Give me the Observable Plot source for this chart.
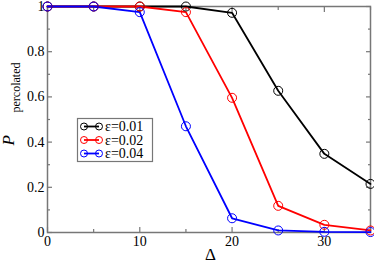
<!DOCTYPE html>
<html>
<head>
<meta charset="utf-8">
<script src="https://cdn.jsdelivr.net/npm/d3@7"></script>
<script src="https://cdn.jsdelivr.net/npm/@observablehq/plot@0.6"></script>
<style>
  html, body { margin: 0; padding: 0; background: #fff; }
  #chart { width: 374px; height: 262px; }
</style>
</head>
<body>
<div id="chart"></div>
<script>
const delta = [0, 5, 10, 15, 20, 25, 30, 35];
const p001 = [1, 1, 1, 1, 0.972, 0.627, 0.348, 0.215];
const p002 = [1, 1, 1, 0.975, 0.596, 0.118, 0.034, 0.009];
const p004 = [1, 1, 0.975, 0.47, 0.063, 0.009, 0.003, 0.002];
const seriesLabels = ["ε=0.01", "ε=0.02", "ε=0.04"];
const seriesColors = ["#000000", "#ff0000", "#0000ff"];
const xMajor = [0, 10, 20, 30];
const xMinor = [5, 15, 25, 35];
const yMajor = [0, 0.2, 0.4, 0.6, 0.8, 1];
const yMinor = [0.1, 0.3, 0.5, 0.7, 0.9];
const yTickLabels = ["0", "0.2", "0.4", "0.6", "0.8", "1"];

const allSeries = [p001, p002, p004];
const data = [];
allSeries.forEach((vals, si) => {
  vals.forEach((v, i) => data.push({delta: delta[i], p: v, series: seriesLabels[si]}));
});

const serif = "Liberation Serif";
const grey = "#777";

const plot = Plot.plot({
  width: 374,
  height: 262,
  marginLeft: 47,
  marginRight: 4,
  marginTop: 6,
  marginBottom: 30,
  style: {fontFamily: serif, fontSize: "14px", background: "#fff", color: "#000"},
  x: {domain: [0, 35], label: null},
  y: {domain: [0, 1], label: null},
  color: {domain: seriesLabels, range: seriesColors},
  marks: [
    Plot.frame({stroke: grey, strokeWidth: 1.5}),
    Plot.axisX(xMajor, {tickSize: -5, text: null, stroke: grey, strokeWidth: 1.2, label: null}),
    Plot.axisX(xMinor, {tickSize: -3, text: null, stroke: grey, strokeWidth: 1.2, label: null}),
    Plot.axisX(xMajor, {anchor: "top", tickSize: -5, text: null, stroke: grey, strokeWidth: 1.2, label: null}),
    Plot.axisX(xMinor, {anchor: "top", tickSize: -3, text: null, stroke: grey, strokeWidth: 1.2, label: null}),
    Plot.axisX(xMajor, {tickSize: 0, tickPadding: 4, label: null, fontSize: 14, fontFamily: serif, tickFormat: d => String(d)}),
    Plot.axisY(yMajor, {tickSize: -5, text: null, stroke: grey, strokeWidth: 1.2, label: null}),
    Plot.axisY(yMinor, {tickSize: -3, text: null, stroke: grey, strokeWidth: 1.2, label: null}),
    Plot.axisY(yMajor, {anchor: "right", tickSize: -5, text: null, stroke: grey, strokeWidth: 1.2, label: null}),
    Plot.axisY(yMinor, {anchor: "right", tickSize: -3, text: null, stroke: grey, strokeWidth: 1.2, label: null}),
    Plot.axisY(yMajor, {tickSize: 0, tickPadding: 3, label: null, fontSize: 14, fontFamily: serif, tickFormat: (d, i) => yTickLabels[i]}),
    Plot.line(data, {x: "delta", y: "p", z: "series", stroke: "series", strokeWidth: 1.8}),
    Plot.dot(data, {x: "delta", y: "p", stroke: "series", r: 4.5, strokeWidth: 1, fill: "none"}),
    Plot.text(["Δ"], {frameAnchor: "bottom", dx: 1.5, dy: 22, fontSize: 17, fontFamily: serif, lineAnchor: "middle"}),
    Plot.text(["P"], {frameAnchor: "left", dx: -39, dy: 26, rotate: -90, fontSize: 17, fontFamily: serif, fontStyle: "italic", lineAnchor: "middle"}),
    Plot.text(["percolated"], {frameAnchor: "left", dx: -31, dy: -7, rotate: -90, fontSize: 12, fontFamily: serif, lineAnchor: "middle"})
  ]
});

document.getElementById("chart").appendChild(plot);

// Legend drawn into the same SVG
const svg = d3.select(plot);
const lg = svg.append("g").attr("font-size", 14).attr("text-anchor", "start");
lg.append("rect").attr("x", 77.5).attr("y", 118.5).attr("width", 75).attr("height", 43)
  .attr("fill", "#fff").attr("stroke", grey).attr("stroke-width", 1.2);
seriesLabels.forEach((lab, i) => {
  const yy = 126.5 + i * 13.5;
  const c = seriesColors[i];
  lg.append("line").attr("x1", 84).attr("x2", 99).attr("y1", yy).attr("y2", yy)
    .attr("stroke", c).attr("stroke-width", 1.8);
  [84, 99].forEach(cx => lg.append("circle").attr("cx", cx).attr("cy", yy).attr("r", 3.5)
    .attr("fill", "none").attr("stroke", c).attr("stroke-width", 1));
  lg.append("text").attr("x", 105).attr("y", yy).attr("dy", "0.35em").attr("fill", "#000")
    .attr("text-anchor", "start").text(lab);
});
svg.selectAll("text").style("font-family", "'Liberation Serif'");
</script>
</body>
</html>
